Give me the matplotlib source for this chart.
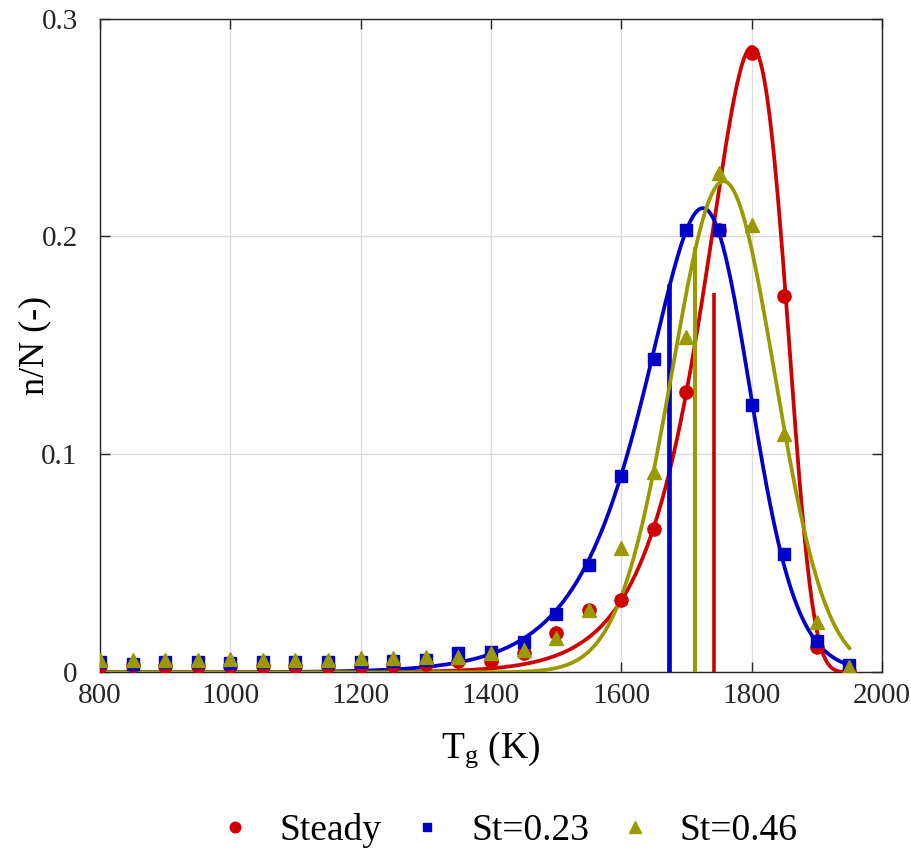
import numpy as np
import matplotlib
matplotlib.use('Agg')
import matplotlib.pyplot as plt

plt.rcParams['font.family'] = ['Liberation Serif', 'DejaVu Serif']
plt.rcParams['mathtext.fontset'] = 'custom'
plt.rcParams['mathtext.rm'] = 'Liberation Serif'
plt.rcParams['mathtext.it'] = 'Liberation Serif:italic'

# measured histogram points (gas temperature bins, K)
temps = [800, 850, 900, 950, 1000, 1050, 1100, 1150, 1200, 1250, 1300, 1350,
         1400, 1450, 1500, 1550, 1600, 1650, 1700, 1750, 1800, 1850, 1900, 1950]
steady = [0.003, 0.0035, 0.003, 0.003, 0.003, 0.003, 0.003, 0.003, 0.003, 0.0034, 0.004, 0.0052,
          0.005, 0.009, 0.018, 0.0286, 0.0333, 0.0658, 0.1286, 0.203, 0.284, 0.1728, 0.0118, 0.0008]
st023 = [0.0048, 0.0038, 0.0048, 0.0048, 0.0045, 0.0048, 0.0048, 0.0048, 0.0048, 0.005, 0.0057, 0.0087,
         0.0095, 0.0138, 0.0266, 0.0493, 0.090, 0.1439, 0.203, 0.203, 0.1227, 0.0544, 0.0144, 0.0034]
st046 = [0.0055, 0.0055, 0.0055, 0.0055, 0.0062, 0.0055, 0.0055, 0.0055, 0.0064, 0.0064, 0.0072, 0.0072,
         0.009, 0.0102, 0.0156, 0.0286, 0.057, 0.0917, 0.154, 0.229, 0.2054, 0.1094, 0.0232, 0.0026]

# mean temperature of each case and height of its marker line
mean_T = {'Steady': 1742, 'St=0.23': 1673, 'St=0.46': 1713}
mean_top = {'Steady': 0.174, 'St=0.23': 0.178, 'St=0.46': 0.195}

# fitted distribution parameters
fit_steady = dict(mode=1800.5, height=0.287, width=54.5, shape=0.8)
fit_st023 = dict(mode=1725, height=0.213, k_left=0.0123, k_right=0.031, n=2.3)
fit_st046 = dict(mode=1757, height=0.2253, k_left=0.06, k_right=0.08, n=30)

colors = {'Steady': '#D00000', 'St=0.23': '#0000C8', 'St=0.46': '#9A9A00'}


def log_gamma_peak(T, mode, height, width, shape):
    u = (T - mode) / width
    return height * np.exp(-shape * (np.exp(u) - 1 - u))


def double_exp_peak(T, mode, height, k_left, k_right, n):
    d = T - mode
    g = (k_right * np.exp(-k_left * d / n) + k_left * np.exp(k_right * d / n)) / (k_left + k_right)
    return height * g ** (-n)


Tfit = np.linspace(temps[0], temps[-1], 600)
curves = {'Steady': log_gamma_peak(Tfit, **fit_steady),
          'St=0.23': double_exp_peak(Tfit, **fit_st023),
          'St=0.46': double_exp_peak(Tfit, **fit_st046)}
points = {'Steady': (steady, 'o', 9.5), 'St=0.23': (st023, 's', 8), 'St=0.46': (st046, '^', 10)}
vline_w = {'Steady': 2.6, 'St=0.23': 3.4, 'St=0.46': 3.0}

fig = plt.figure(figsize=(9.12, 8.49), dpi=100)
ax = fig.add_axes([0.1096, 0.2081, 0.8575, 0.7701])

for name in ['Steady', 'St=0.23', 'St=0.46']:
    ax.plot(Tfit, curves[name], color=colors[name], lw=2.7, zorder=3)
    ax.vlines(mean_T[name], 0, mean_top[name], color=colors[name], lw=vline_w[name], zorder=3)

handles = []
for name in ['Steady', 'St=0.23', 'St=0.46']:
    vals, mk, ms = points[name]
    h, = ax.plot(temps, vals, linestyle='none', marker=mk, ms=ms, color=colors[name],
                 label=name, zorder=4)
    handles.append(h)

ax.set_xlim(800, 2000)
ax.set_ylim(0, 0.3)
ax.set_xticks([800, 1000, 1200, 1400, 1600, 1800, 2000])
ax.set_yticks([0, 0.1, 0.2, 0.3])
ax.set_yticklabels(['0', '0.1', '0.2', '0.3'])
ax.grid(True, color='#DCDCDC', lw=1)
ax.set_axisbelow(True)
ax.tick_params(direction='in', length=7, width=1, top=True, right=True,
               labelsize=21, colors='#262626', pad=8)
ax.tick_params(axis='y', pad=16)
for s in ax.spines.values():
    s.set_color('#262626')
    s.set_linewidth(1)

ax.set_xlabel(r'T$_\mathrm{g}$ (K)', fontsize=27, labelpad=14)
ax.set_ylabel('n/N (-)', fontsize=26)
ax.yaxis.set_label_coords(-0.062, 0.5)

fig.legend(handles=handles, loc='center', bbox_to_anchor=(0.556, 0.022), ncol=3,
           frameon=False, fontsize=27, markerscale=0.8, handlelength=1.0,
           handletextpad=0.7, columnspacing=0.7)

fig.savefig('out.png', dpi=100)
